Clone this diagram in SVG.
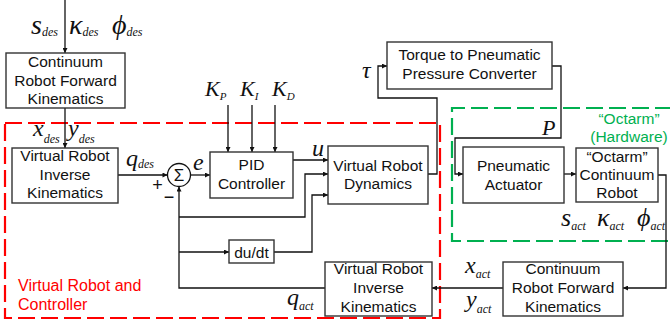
<svg xmlns="http://www.w3.org/2000/svg" width="670" height="320" viewBox="0 0 670 320">
<defs>
<marker id="ah" viewBox="0 0 10 10" refX="10" refY="5" markerWidth="6" markerHeight="5" markerUnits="userSpaceOnUse" orient="auto">
<path d="M0,0 L10,5 L0,10 z" fill="#111"/>
</marker>
<style>
.box{fill:#fff;stroke:#333;stroke-width:1.4}
.lbl{font-family:"Liberation Sans",Arial,sans-serif;font-size:15.5px;fill:#111;text-anchor:middle}
.m{font-family:"Liberation Serif","Times New Roman",serif;font-style:italic;fill:#111}
.sub{font-size:12px}
.c{fill:none;stroke:#111;stroke-width:1.3}
.ca{fill:none;stroke:#111;stroke-width:1.3;marker-end:url(#ah)}
.red{fill:none;stroke:#ff0000;stroke-width:2.2;stroke-dasharray:17 6}
.grn{fill:none;stroke:#00b050;stroke-width:2.2;stroke-dasharray:17 6}
.rt{font-family:"Liberation Sans",Arial,sans-serif;font-size:16px;fill:#ff0000}
.gt{font-family:"Liberation Sans",Arial,sans-serif;font-size:15.5px;fill:#00b050;text-anchor:middle}
.sg{font-family:"Liberation Sans",Arial,sans-serif;fill:#111;text-anchor:middle}
</style>
</defs>
<rect width="670" height="320" fill="#fff"/>

<g id="regions">
<rect class="red" x="5" y="123" width="435" height="195"/>
<path class="grn" d="M672,108 H452 V241 H672"/>
<text class="rt" x="18" y="291">Virtual Robot and</text>
<text class="rt" x="18" y="310">Controller</text>
<text class="gt" x="629" y="124">“Octarm”</text>
<text class="gt" x="629" y="142">(Hardware)</text>
</g>

<g id="connectors">
<path class="ca" d="M65,0 V53"/>
<path class="ca" d="M65,108 V148"/>
<path class="ca" d="M118,175 H167.5"/>
<path class="ca" d="M190.5,175 H210"/>
<path class="ca" d="M228,105 V152"/>
<path class="ca" d="M252,105 V152"/>
<path class="ca" d="M275,105 V152"/>
<path class="ca" d="M293,160 H328"/>
<path class="ca" d="M325,288 H179 V186.5"/>
<path class="ca" d="M179,217 H305 V174 H328"/>
<path class="ca" d="M179,252 H229"/>
<path class="ca" d="M274,252 H312 V195 H328"/>
<path class="ca" d="M428,174 H437 V98 H378 V66 H387"/>
<path class="ca" d="M552,66 H561 V138 H455 V174 H463"/>
<path class="ca" d="M564,174 H576"/>
<path class="ca" d="M658,175 H666 V288 H623"/>
<path class="ca" d="M503,288 H432"/>
</g>

<g id="crfk-top">
<rect class="box" x="6" y="53" width="119" height="55"/>
<text class="lbl" x="65.5" y="67">Continuum</text>
<text class="lbl" x="65.5" y="86">Robot Forward</text>
<text class="lbl" x="65.5" y="104">Kinematics</text>
</g>

<g id="vrik-top">
<rect class="box" x="12" y="148" width="106" height="55"/>
<text class="lbl" x="65" y="161">Virtual Robot</text>
<text class="lbl" x="65" y="180">Inverse</text>
<text class="lbl" x="65" y="198">Kinematics</text>
</g>

<g id="sum">
<circle cx="179" cy="175" r="11.5" fill="#fff" stroke="#111" stroke-width="1.3"/>
<text class="sg" x="179" y="181" font-size="17">Σ</text>
<text class="sg" x="157.5" y="191" font-size="18">+</text>
<text class="sg" x="169" y="203" font-size="18">−</text>
</g>

<g id="pid">
<rect class="box" x="210" y="152" width="83" height="46"/>
<text class="lbl" x="251.5" y="170">PID</text>
<text class="lbl" x="251.5" y="189">Controller</text>
</g>

<g id="dynamics">
<rect class="box" x="328" y="146" width="100" height="58"/>
<text class="lbl" x="378" y="171">Virtual Robot</text>
<text class="lbl" x="378" y="189">Dynamics</text>
</g>

<g id="dudt">
<rect class="box" x="229" y="240" width="45" height="23"/>
<text class="lbl" x="251.5" y="257.5">du/dt</text>
</g>

<g id="vrik-bottom">
<rect class="box" x="325" y="262" width="107" height="54"/>
<text class="lbl" x="378.5" y="274">Virtual Robot</text>
<text class="lbl" x="378.5" y="293">Inverse</text>
<text class="lbl" x="378.5" y="312">Kinematics</text>
</g>

<g id="crfk-bottom">
<rect class="box" x="503" y="262" width="120" height="54"/>
<text class="lbl" x="563" y="274">Continuum</text>
<text class="lbl" x="563" y="293">Robot Forward</text>
<text class="lbl" x="563" y="312">Kinematics</text>
</g>

<g id="torque">
<rect class="box" x="387" y="42" width="165" height="47"/>
<text class="lbl" x="469.5" y="60">Torque to Pneumatic</text>
<text class="lbl" x="469.5" y="79">Pressure Converter</text>
</g>

<g id="actuator">
<rect class="box" x="463" y="147" width="101" height="56"/>
<text class="lbl" x="513.5" y="171">Pneumatic</text>
<text class="lbl" x="513.5" y="190">Actuator</text>
</g>

<g id="octarm">
<rect class="box" x="576" y="148" width="82" height="54"/>
<text class="lbl" x="617" y="162">“Octarm”</text>
<text class="lbl" x="617" y="180">Continuum</text>
<text class="lbl" x="617" y="198">Robot</text>
</g>

<g id="math-labels">
<text class="m" x="31" y="34" font-size="28">s<tspan class="sub" y="36">des</tspan></text>
<text class="m" x="69" y="34" font-size="28">κ<tspan class="sub" y="36">des</tspan></text>
<text class="m" x="112" y="34" font-size="28">ϕ<tspan class="sub" y="36">des</tspan></text>
<text class="m" x="205" y="96" font-size="22">K<tspan font-size="11" y="100">P</tspan></text>
<text class="m" x="240" y="96" font-size="22">K<tspan font-size="11" y="100">I</tspan></text>
<text class="m" x="272" y="96" font-size="22">K<tspan font-size="11" y="100">D</tspan></text>
<text class="m" x="33" y="136" font-size="24">x<tspan class="sub" y="143">des</tspan></text>
<text class="m" x="68" y="136" font-size="24">y<tspan class="sub" y="143">des</tspan></text>
<text class="m" x="126" y="166" font-size="24">q<tspan class="sub" y="168">des</tspan></text>
<text class="m" x="193" y="170" font-size="24">e</text>
<text class="m" x="312" y="156" font-size="24">u</text>
<text class="m" x="362" y="78" font-size="24">τ</text>
<text class="m" x="542" y="135" font-size="22">P</text>
<text class="m" x="561" y="226" font-size="26">s<tspan class="sub" y="230">act</tspan></text>
<text class="m" x="597" y="226" font-size="26">κ<tspan class="sub" y="230">act</tspan></text>
<text class="m" x="637" y="226" font-size="26">ϕ<tspan class="sub" y="230">act</tspan></text>
<text class="m" x="465" y="273" font-size="24">x<tspan class="sub" y="278">act</tspan></text>
<text class="m" x="466" y="307" font-size="24">y<tspan class="sub" y="313">act</tspan></text>
<text class="m" x="287" y="305" font-size="24">q<tspan class="sub" y="310">act</tspan></text>
</g>
</svg>
